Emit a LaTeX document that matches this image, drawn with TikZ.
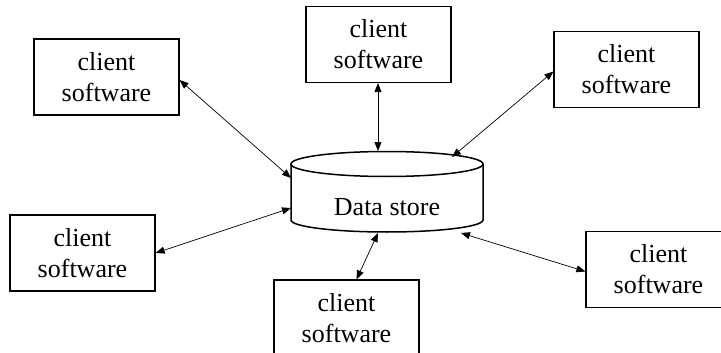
\documentclass[tikz,border=0pt]{standalone}
\usepackage{fontspec}
\setmainfont{Liberation Serif}
\usetikzlibrary{arrows.meta,calc}

\tikzset{
  client/.style={draw, line width=1.2pt, minimum width=145pt, minimum height=76pt,
    inner sep=0pt, align=center, font=\fontsize{26}{31}\selectfont},
  link/.style={line width=0.7pt,
    {Triangle[length=9pt,width=7pt]}-{Triangle[length=9pt,width=7pt]}},
  drum/.style={line width=1.5pt}
}

\begin{document}
\begin{tikzpicture}[x=1pt,y=-1pt]
  \useasboundingbox (0,0) rectangle (721,353);
  \clip (0,0) rectangle (721,353);

  % the data store drum
  \draw[drum] (387,164) ellipse [x radius=96, y radius=12.5];
  \draw[drum] (291,164) -- (291,220) arc[start angle=180, end angle=0, x radius=96, y radius=12] -- (483,164);
  \node[font=\fontsize{26}{31}\selectfont] (ds) at (387,207) {Data store};

  % points on the drum where the links end
  \coordinate (d1) at (291,178);
  \coordinate (d2) at (378,151);
  \coordinate (d3) at (452,157);
  \coordinate (d4) at (291,208);
  \coordinate (d5) at (378,233);
  \coordinate (d6) at (461,233);

  % clients
  \node[client] (b1) at (106.5,77)   {client\\software};
  \node[client] (b2) at (378.5,44.5) {client\\software};
  \node[client] (b3) at (626.5,69.5) {client\\software};
  \node[client] (b4) at (82.5,253)   {client\\software};
  \node[client] (b5) at (346.5,318)  {client\\software};
  \node[client] (b6) at (658.5,269.5){client\\software};

  % two-way links
  \draw[link] ($(b1.east)+(0,3)$) -- (d1);
  \draw[link] (b2.south -| d2) -- (d2);
  \draw[link] ($(b3.west)+(0,2)$) -- (d3);
  \draw[link] (b4.east) -- (d4);
  \draw[link] ($(b5.north)+(10,0)$) -- (d5);
  \draw[link] ($(b6.west)+(0,2)$) -- (d6);
\end{tikzpicture}
\end{document}
